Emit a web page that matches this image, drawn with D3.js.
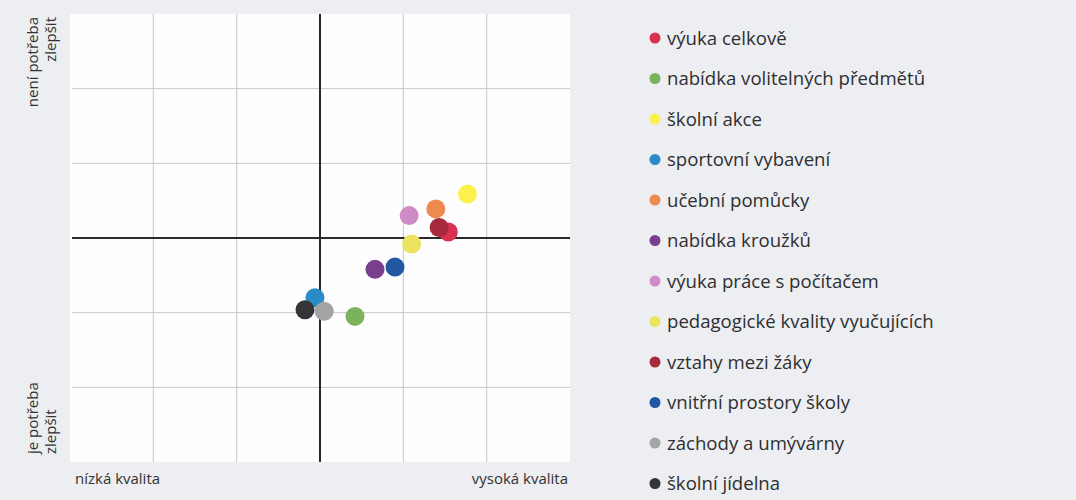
<!DOCTYPE html>
<html>
<head>
<meta charset="utf-8">
<script src="https://cdn.jsdelivr.net/npm/d3@7"></script>
<style>
  body { margin: 0; background: #eceef2; }
  svg { display: block; font-family: "Open Sans", "Noto Sans", sans-serif; }
  .grid line { stroke: #c4c6ca; stroke-width: 1; }
  .axis line { stroke: #2a2a2c; stroke-width: 2; }
  .lbl { fill: #333; font-size: 15px; }
  .legend text { fill: #2f2f31; font-size: 18.6px; }
</style>
</head>
<body>
<svg width="1076" height="500"></svg>
<script>
var categories = [
  "výuka celkově",
  "nabídka volitelných předmětů",
  "školní akce",
  "sportovní vybavení",
  "učební pomůcky",
  "nabídka kroužků",
  "výuka práce s počítačem",
  "pedagogické kvality vyučujících",
  "vztahy mezi žáky",
  "vnitřní prostory školy",
  "záchody a umývárny",
  "školní jídelna"
];
// quality (x) and need to improve (y)
var quality = [1.54, 0.42, 1.77, -0.06, 1.39, 0.66, 1.07, 1.10, 1.43, 0.90, 0.05, -0.18];
var noNeed  = [0.08, -1.05, 0.59, -0.80, 0.39, -0.42, 0.30, -0.08, 0.14, -0.39, -0.98, -0.96];
var colors = ["#d8324f", "#7bb35d", "#fbf04c", "#2a8cc6", "#ec8a50", "#7a3e8e",
              "#cf8bc4", "#ebe45e", "#a62a3b", "#2257a4", "#a3a4a6", "#343538"];
var ticks = [-3, -2, -1, 0, 1, 2, 3];

var svg = d3.select("svg"),
    margin = {top: 14, left: 70},
    width = 500,
    height = 448;

var x = d3.scaleLinear().domain([-3, 3]).range([0, width]),
    y = d3.scaleLinear().domain([-3, 3]).range([height, 0]);

var g = svg.append("g")
    .attr("transform", "translate(" + margin.left + "," + margin.top + ")");

g.append("rect")
    .attr("width", width)
    .attr("height", height)
    .attr("fill", "#fdfdfe");

var grid = g.append("g").attr("class", "grid");
grid.selectAll(".v").data(ticks.slice(1, -1)).enter().append("line")
    .attr("x1", function(d) { return x(d); })
    .attr("x2", function(d) { return x(d); })
    .attr("y1", 0).attr("y2", height);
grid.selectAll(".h").data(ticks.slice(1, -1)).enter().append("line")
    .attr("x1", 2).attr("x2", width)
    .attr("y1", function(d) { return y(d); })
    .attr("y2", function(d) { return y(d); });

var axes = g.append("g").attr("class", "axis");
axes.append("line")
    .attr("x1", x(0)).attr("x2", x(0))
    .attr("y1", 0).attr("y2", height);
axes.append("line")
    .attr("x1", 2).attr("x2", width)
    .attr("y1", y(0)).attr("y2", y(0));

var points = categories.map(function(c, i) {
  return {name: c, x: quality[i], y: noNeed[i], color: colors[i]};
});

g.selectAll(".dot").data(points).enter().append("circle")
    .attr("class", "dot")
    .attr("cx", function(d) { return x(d.x); })
    .attr("cy", function(d) { return y(d.y); })
    .attr("r", 9.5)
    .attr("fill", function(d) { return d.color; });

// axis captions
g.append("text").attr("class", "lbl")
    .attr("x", 5).attr("y", height + 22)
    .text("nízká kvalita");
g.append("text").attr("class", "lbl")
    .attr("x", width - 2).attr("y", height + 22)
    .attr("text-anchor", "end")
    .text("vysoká kvalita");

var topLbl = svg.append("text").attr("class", "lbl")
    .attr("transform", "translate(38," + (margin.top + 3) + ") rotate(-90)")
    .attr("text-anchor", "end");
topLbl.append("tspan").attr("x", 0).attr("y", 0).text("není potřeba");
topLbl.append("tspan").attr("x", 0).attr("y", 18).text("zlepšit");

var botLbl = svg.append("text").attr("class", "lbl")
    .attr("transform", "translate(38," + (margin.top + height - 8) + ") rotate(-90)")
    .attr("text-anchor", "start");
botLbl.append("tspan").attr("x", 0).attr("y", 0).text("je potřeba");
botLbl.append("tspan").attr("x", 0).attr("y", 18).text("zlepšit");

// legend
var legend = svg.append("g").attr("class", "legend")
    .attr("transform", "translate(655,38)");
var item = legend.selectAll("g").data(points).enter().append("g")
    .attr("transform", function(d, i) { return "translate(0," + i * 40.5 + ")"; });
item.append("circle")
    .attr("r", 5.5)
    .attr("fill", function(d) { return d.color; });
item.append("text")
    .attr("x", 12)
    .attr("dy", "0.35em")
    .text(function(d) { return d.name; });
</script>
</body>
</html>
